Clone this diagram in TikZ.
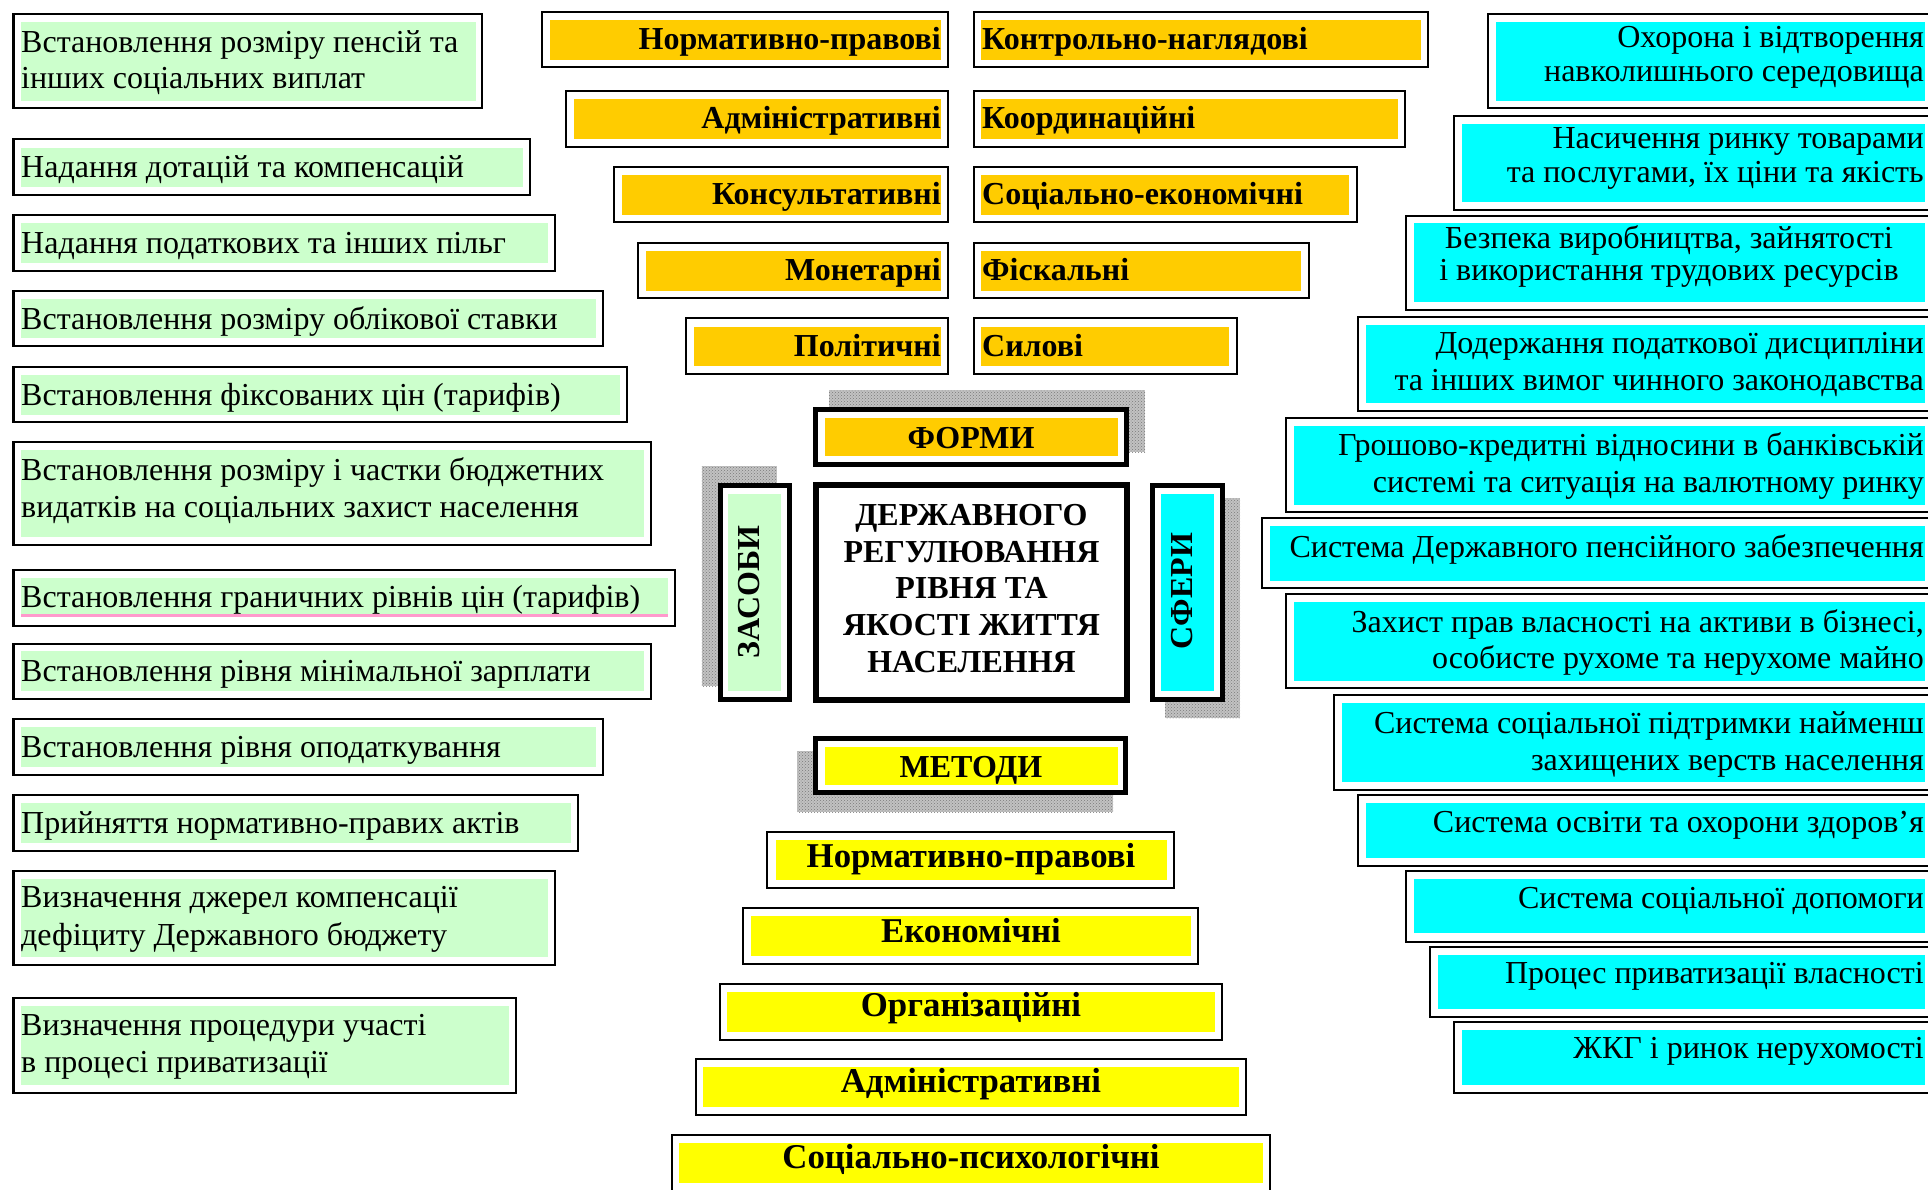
\documentclass[tikz,border=0pt]{standalone}
\usepackage{fontspec}
\setmainfont{Liberation Serif}
\usetikzlibrary{patterns}
\definecolor{gfill}{HTML}{CCFFCC}
\definecolor{ofill}{HTML}{FFCC00}
\definecolor{yfill}{HTML}{FFFF00}
\definecolor{cfill}{HTML}{00FFFF}
\definecolor{pinkl}{HTML}{FF99CC}
\definecolor{shadowgray}{HTML}{C2C2C2}
\definecolor{shadowdots}{HTML}{7A7A7A}
\tikzset{
  frame/.style={draw=black, line width=2.5pt},
  heavyframe/.style={draw=black, line width=5pt},
  shadowbox/.style={fill=shadowgray, postaction={pattern=crosshatch dots, pattern color=shadowdots}},
  txt/.style={inner sep=0pt, font=\fontsize{32}{37}\selectfont},
  btxt/.style={inner sep=0pt, font=\fontsize{32}{37}\selectfont\bfseries},
  lt/.style={txt, anchor=base west},
  rt/.style={txt, anchor=base east},
  ct/.style={txt, anchor=base},
  blt/.style={btxt, anchor=base west},
  brt/.style={btxt, anchor=base east},
  bct/.style={btxt, anchor=base},
  mct/.style={inner sep=0pt, font=\fontsize{34.8}{40}\selectfont\bfseries, anchor=base},
}
\begin{document}
\begin{tikzpicture}[x=1pt,y=-1pt]
\clip (0,0) rectangle (1928,1189);
\fill[white] (0,0) rectangle (1928,1189);

% ---------------- left column (green) ----------------
\draw[frame] (13.5,14) rectangle (482,108); \fill[gfill] (21,22) rectangle (476,101);
\node[lt] (l1a) at (21,52) {Встановлення розміру пенсій та};
\node[lt] (l1b) at (21,88) {інших соціальних виплат};

\draw[frame] (13.5,139) rectangle (530,195); \fill[gfill] (21,148) rectangle (523,187);
\node[lt] (l2) at (21,177) {Надання дотацій та компенсацій};

\draw[frame] (13.5,215) rectangle (555,271); \fill[gfill] (21,223) rectangle (548,263);
\node[lt] (l3) at (21,253) {Надання податкових та інших пільг};

\draw[frame] (13.5,291) rectangle (603,346); \fill[gfill] (21,299) rectangle (596,338);
\node[lt] (l4) at (21,329) {Встановлення розміру облікової ставки};

\draw[frame] (13.5,367) rectangle (627,422); \fill[gfill] (21,375) rectangle (620,415);
\node[lt] (l5) at (21,405) {Встановлення фіксованих цін (тарифів)};

\draw[frame] (13.5,442) rectangle (651,545); \fill[gfill] (21,450) rectangle (644,537);
\node[lt] (l6a) at (21,480) {Встановлення розміру і частки бюджетних};
\node[lt] (l6b) at (21,517) {видатків на соціальних захист населення};

\draw[frame] (13.5,570) rectangle (675,626); \fill[gfill] (21,578) rectangle (668,617);
\draw[pinkl, line width=2.5pt] (21,615.5) -- (668,615.5);
\node[lt] (l7) at (21,607) {Встановлення граничних рівнів цін (тарифів)};

\draw[frame] (13.5,644) rectangle (651,699); \fill[gfill] (21,651) rectangle (644,691);
\node[lt] (l8) at (21,681) {Встановлення рівня мінімальної зарплати};

\draw[frame] (13.5,719) rectangle (603,775); \fill[gfill] (21,727) rectangle (596,767);
\node[lt] (l9) at (21,757) {Встановлення рівня оподаткування};

\draw[frame] (13.5,795) rectangle (578,851); \fill[gfill] (21,803) rectangle (571,843);
\node[lt] (l10) at (21,833) {Прийняття нормативно-правих актів};

\draw[frame] (13.5,871) rectangle (555,965); \fill[gfill] (21,879) rectangle (548,957);
\node[lt] (l11a) at (21,907) {Визначення джерел компенсації};
\node[lt] (l11b) at (21,945) {дефіциту Державного бюджету};

\draw[frame] (13.5,998) rectangle (516,1093); \fill[gfill] (21,1006) rectangle (509,1085);
\node[lt] (l12a) at (21,1035) {Визначення процедури участі};
\node[lt] (l12b) at (21,1072) {в процесі приватизації};

% ---------------- forms (orange) ----------------
\draw[frame] (542,12) rectangle (948,67); \fill[ofill] (550,20) rectangle (941,60);
\node[brt] (fl1) at (941,49) {Нормативно-правові};
\draw[frame] (566,91) rectangle (948,147); \fill[ofill] (574,99) rectangle (941,139);
\node[brt] (fl2) at (941,128) {Адміністративні};
\draw[frame] (614,167) rectangle (948,222); \fill[ofill] (622,175) rectangle (941,215);
\node[brt] (fl3) at (941,204) {Консультативні};
\draw[frame] (638,243) rectangle (948,298); \fill[ofill] (646,251) rectangle (941,291);
\node[brt] (fl4) at (941,280) {Монетарні};
\draw[frame] (686,318) rectangle (948,374); \fill[ofill] (694,327) rectangle (941,366);
\node[brt] (fl5) at (941,356) {Політичні};

\draw[frame] (974,12) rectangle (1428,67); \fill[ofill] (981,20) rectangle (1421,60);
\node[blt] (fr1) at (982,49) {Контрольно-наглядові};
\draw[frame] (974,91) rectangle (1405,147); \fill[ofill] (981,99) rectangle (1398,139);
\node[blt] (fr2) at (982,128) {Координаційні};
\draw[frame] (974,167) rectangle (1357,222); \fill[ofill] (981,175) rectangle (1349,215);
\node[blt] (fr3) at (982,204) {Соціально-економічні};
\draw[frame] (974,243) rectangle (1309,298); \fill[ofill] (981,251) rectangle (1301,291);
\node[blt] (fr4) at (982,280) {Фіскальні};
\draw[frame] (974,318) rectangle (1237,374); \fill[ofill] (981,327) rectangle (1229,366);
\node[blt] (fr5) at (982,356) {Силові};

% ---------------- centre ----------------
\fill[shadowbox] (829,390) rectangle (1145,452);
\filldraw[heavyframe, fill=white] (815.5,409.5) rectangle (1126.5,464.5);
\fill[ofill] (825,418) rectangle (1118,456);
\node[bct] (forms) at (971,448) {ФОРМИ};

\draw[draw=black, line width=6pt, fill=white] (816,485) rectangle (1127,700);
\node[bct] (c1) at (971.5,525) {ДЕРЖАВНОГО};
\node[bct] (c2) at (971.5,562) {РЕГУЛЮВАННЯ};
\node[bct] (c3) at (971.5,598) {РІВНЯ ТА};
\node[bct] (c4) at (971.5,635) {ЯКОСТІ ЖИТТЯ};
\node[bct] (c5) at (971.5,672) {НАСЕЛЕННЯ};

\fill[shadowbox] (701.5,466) rectangle (776.6,686);
\filldraw[heavyframe, fill=white] (720.5,485.5) rectangle (789.5,699.5);
\fill[gfill] (728,494) rectangle (780.6,691);
\node[btxt, rotate=90, anchor=base] (means) at (759,592) {ЗАСОБИ};

\fill[shadowbox] (1165,498) rectangle (1240,718);
\filldraw[heavyframe, fill=white] (1152.5,485.5) rectangle (1222.5,699.5);
\fill[cfill] (1161,494) rectangle (1213.6,691);
\node[btxt, rotate=90, anchor=base] (spheres) at (1192,591) {СФЕРИ};

\fill[shadowbox] (797,751) rectangle (1113,812);
\filldraw[heavyframe, fill=white] (815.5,738.5) rectangle (1125.5,792.5);
\fill[yfill] (825,747) rectangle (1118,785);
\node[bct] (methods) at (971,777) {МЕТОДИ};

% ---------------- methods (yellow) ----------------
\draw[frame] (767,832) rectangle (1174,888); \fill[yfill] (776,840) rectangle (1167,880);
\node[mct] (m1) at (971,867) {Нормативно-правові};
\draw[frame] (743,908) rectangle (1198,964); \fill[yfill] (751,916) rectangle (1191,956);
\node[mct] (m2) at (971,942) {Економічні};
\draw[frame] (720,984) rectangle (1222,1040); \fill[yfill] (727,992) rectangle (1215,1032);
\node[mct] (m3) at (971,1016) {Організаційні};
\draw[frame] (696,1059) rectangle (1246,1115); \fill[yfill] (703,1067) rectangle (1239,1107);
\node[mct] (m4) at (971,1092) {Адміністративні};
\draw[frame] (672,1135) rectangle (1270,1195); \fill[yfill] (679,1143) rectangle (1263,1183);
\node[mct] (m5) at (971,1168) {Соціально-психологічні};

% ---------------- spheres (cyan) ----------------
\draw[frame] (1488,14) rectangle (1940,108); \fill[cfill] (1496,22) rectangle (1925,101);
\node[rt] (r1a) at (1924,47) {Охорона і відтворення};
\node[rt] (r1b) at (1924,81) {навколишнього середовища};

\draw[frame] (1454,116) rectangle (1940,210); \fill[cfill] (1462,124) rectangle (1925,202);
\node[rt] (r2a) at (1924,148) {Насичення ринку товарами};
\node[rt] (r2b) at (1924,182) {та послугами, їх ціни та якість};

\draw[frame] (1406,216) rectangle (1940,310); \fill[cfill] (1414,223) rectangle (1925,302);
\node[ct] (r3a) at (1669,248) {Безпека виробництва, зайнятості};
\node[ct] (r3b) at (1669,280) {і використання трудових ресурсів};

\draw[frame] (1358,317) rectangle (1940,411); \fill[cfill] (1366,325) rectangle (1925,403);
\node[rt] (r4a) at (1924,353) {Додержання податкової дисципліни};
\node[rt] (r4b) at (1924,390) {та інших вимог чинного законодавства};

\draw[frame] (1286,418) rectangle (1940,512); \fill[cfill] (1294,426) rectangle (1925,505);
\node[rt] (r5a) at (1924,455) {Грошово-кредитні відносини в банківській};
\node[rt] (r5b) at (1924,492) {системі та ситуація на валютному ринку};

\draw[frame] (1262,518) rectangle (1940,588); \fill[cfill] (1270,526) rectangle (1925,581);
\node[rt] (r6) at (1924,557) {Система Державного пенсійного забезпечення};

\draw[frame] (1286,594) rectangle (1940,688); \fill[cfill] (1294,602) rectangle (1925,681);
\node[rt] (r7a) at (1924,632) {Захист прав власності на активи в бізнесі,};
\node[rt] (r7b) at (1924,668) {особисте рухоме та нерухоме майно};

\draw[frame] (1334,695) rectangle (1940,790); \fill[cfill] (1342,703) rectangle (1925,782);
\node[rt] (r8a) at (1924,733) {Система соціальної підтримки найменш};
\node[rt] (r8b) at (1924,770) {захищених верств населення};

\draw[frame] (1358,795) rectangle (1940,866); \fill[cfill] (1366,803) rectangle (1925,858);
\node[rt] (r9) at (1924,832) {Система освіти та охорони здоров’я};

\draw[frame] (1406,871) rectangle (1940,942); \fill[cfill] (1414,879) rectangle (1925,933);
\node[rt] (r10) at (1924,908) {Система соціальної допомоги};

\draw[frame] (1430,947) rectangle (1940,1017); \fill[cfill] (1438,955) rectangle (1925,1009);
\node[rt] (r11) at (1924,983) {Процес приватизації власності};

\draw[frame] (1454,1022) rectangle (1940,1093); \fill[cfill] (1462,1030) rectangle (1925,1085);
\node[rt] (r12) at (1924,1058) {ЖКГ і ринок нерухомості};
\end{tikzpicture}
\end{document}
